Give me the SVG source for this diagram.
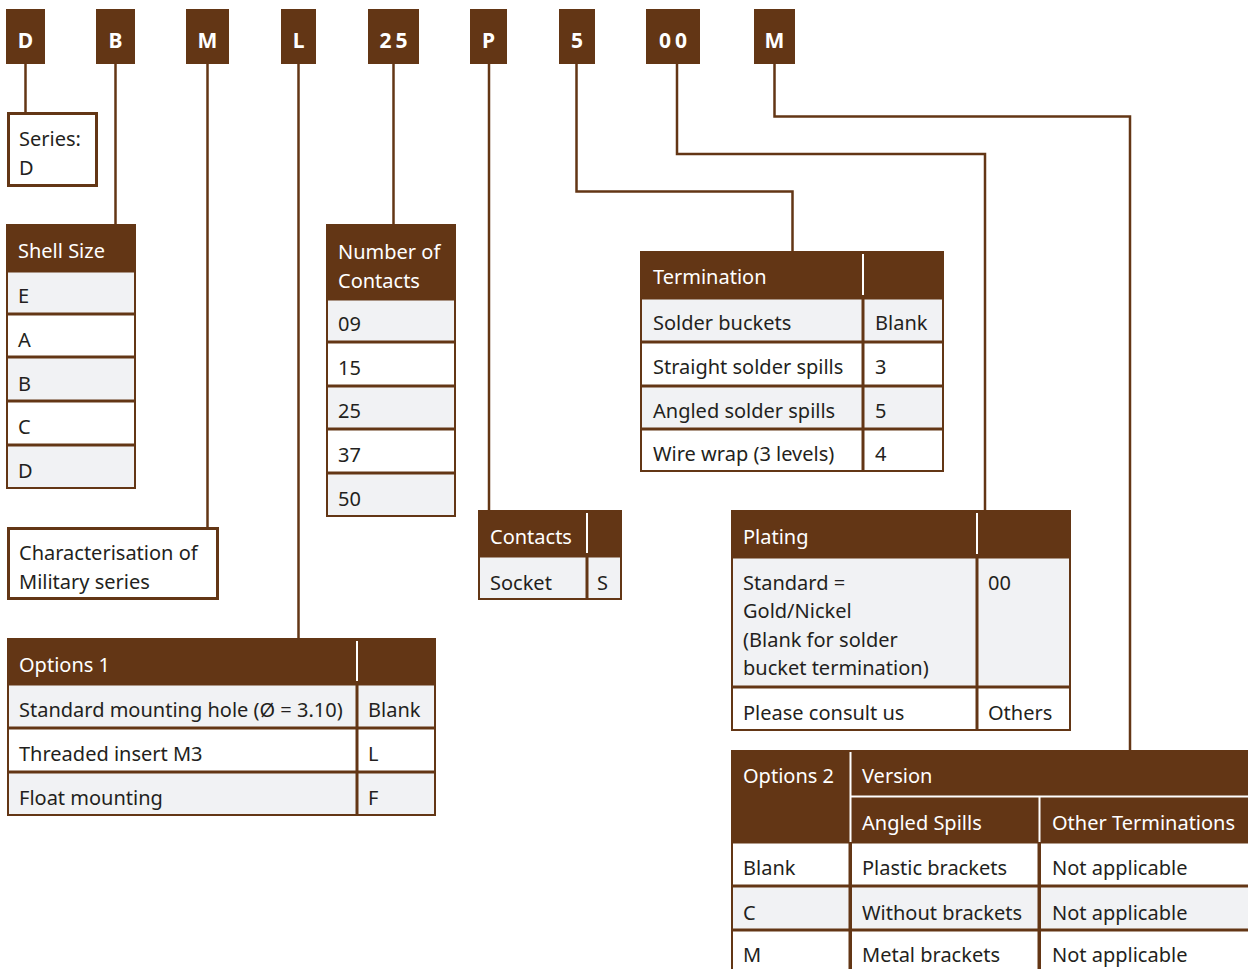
<svg xmlns="http://www.w3.org/2000/svg" width="1248" height="969" viewBox="0 0 1248 969">
<style>
text{font-family:"Noto Sans","Liberation Sans",sans-serif;font-size:20px;fill:#231f20}
.code{font-weight:bold;fill:#fff;font-size:21px;text-anchor:middle}
.h{fill:#fff}
.b{fill:#633615}
.g{fill:#f1f2f4}
.w{fill:#fff}
.wl{stroke:#fff;stroke-width:2;fill:none}
.box{fill:#fff;stroke:#633615;stroke-width:3}
.conn{stroke:#633615;stroke-width:2.5;fill:none}
</style>
<rect width="1248" height="969" fill="#fff"/>
<g id="connectors">
<path class="conn" d="M25.5 64V112"/>
<path class="conn" d="M115.5 64V224"/>
<path class="conn" d="M207.5 64V527"/>
<path class="conn" d="M298.5 64V638"/>
<path class="conn" d="M393.5 64V224"/>
<path class="conn" d="M489 64V510"/>
<path class="conn" d="M576.5 64V191.5H792.5V251"/>
<path class="conn" d="M677 64V154H985V510"/>
<path class="conn" d="M774.5 64V116.5H1130V750"/>
</g>
<g id="codes">
<g id="code-D"><rect class="b" x="6" y="9" width="39" height="55"/><text class="code" x="25.5" y="48">D</text></g>
<g id="code-B"><rect class="b" x="96" y="9" width="39" height="55"/><text class="code" x="115.5" y="48">B</text></g>
<g id="code-M1"><rect class="b" x="186" y="9" width="43" height="55"/><text class="code" x="207.5" y="48">M</text></g>
<g id="code-L"><rect class="b" x="281" y="9" width="35" height="55"/><text class="code" x="298.5" y="48">L</text></g>
<g id="code-25"><rect class="b" x="368" y="9" width="51" height="55"/><text class="code" x="395.5" y="48" letter-spacing="4">25</text></g>
<g id="code-P"><rect class="b" x="470" y="9" width="37" height="55"/><text class="code" x="488.5" y="48">P</text></g>
<g id="code-5"><rect class="b" x="559" y="9" width="36" height="55"/><text class="code" x="577" y="48">5</text></g>
<g id="code-00"><rect class="b" x="646" y="9" width="54" height="55"/><text class="code" x="675" y="48" letter-spacing="4">00</text></g>
<g id="code-M2"><rect class="b" x="754" y="9" width="41" height="55"/><text class="code" x="774.5" y="48">M</text></g>
</g>
<g id="series">
<rect class="box" x="8.5" y="113.5" width="88" height="72"/>
<text x="19" y="146">Series:</text>
<text x="19" y="175">D</text>
</g>
<g id="shell-size">
<rect class="b" x="6" y="224" width="130" height="265"/>
<rect class="g" x="8" y="272.5" width="126" height="40"/>
<rect class="w" x="8" y="315.5" width="126" height="40"/>
<rect class="g" x="8" y="358.5" width="126" height="41"/>
<rect class="w" x="8" y="402.5" width="126" height="41"/>
<rect class="g" x="8" y="446.5" width="126" height="40.5"/>
<text class="h" x="18" y="258">Shell Size</text>
<text x="18" y="303">E</text>
<text x="18" y="347">A</text>
<text x="18" y="391">B</text>
<text x="18" y="434">C</text>
<text x="18" y="478">D</text>
</g>
<g id="characterisation">
<rect class="box" x="8.5" y="528.5" width="209" height="70"/>
<text x="19" y="560">Characterisation of</text>
<text x="19" y="589">Military series</text>
</g>
<g id="number-of-contacts">
<rect class="b" x="326" y="224" width="130" height="293"/>
<rect class="g" x="328" y="300.5" width="126" height="40"/>
<rect class="w" x="328" y="343.5" width="126" height="41"/>
<rect class="g" x="328" y="387.5" width="126" height="40"/>
<rect class="w" x="328" y="430.5" width="126" height="41"/>
<rect class="g" x="328" y="474.5" width="126" height="40.5"/>
<text class="h" x="338" y="259">Number of</text>
<text class="h" x="338" y="288">Contacts</text>
<text x="338" y="331">09</text>
<text x="338" y="375">15</text>
<text x="338" y="418">25</text>
<text x="338" y="462">37</text>
<text x="338" y="506">50</text>
</g>
<g id="contacts">
<rect class="b" x="478" y="510" width="144" height="90"/>
<rect class="g" x="480" y="557.5" width="105.5" height="40.5"/>
<rect class="g" x="588.5" y="557.5" width="31.5" height="40.5"/>
<path class="wl" d="M587 513V553"/>
<text class="h" x="490" y="544">Contacts</text>
<text x="490" y="590">Socket</text>
<text x="597" y="590">S</text>
</g>
<g id="termination">
<rect class="b" x="640" y="251" width="304" height="221"/>
<rect class="g" x="642" y="299.5" width="219.5" height="41"/>
<rect class="g" x="864.5" y="299.5" width="77.5" height="41"/>
<rect class="w" x="642" y="343.5" width="219.5" height="41"/>
<rect class="w" x="864.5" y="343.5" width="77.5" height="41"/>
<rect class="g" x="642" y="387.5" width="219.5" height="40"/>
<rect class="g" x="864.5" y="387.5" width="77.5" height="40"/>
<rect class="w" x="642" y="430.5" width="219.5" height="39.5"/>
<rect class="w" x="864.5" y="430.5" width="77.5" height="39.5"/>
<path class="wl" d="M863 254V295"/>
<text class="h" x="653" y="284">Termination</text>
<text x="653" y="330">Solder buckets</text>
<text x="875" y="330">Blank</text>
<text x="653" y="374">Straight solder spills</text>
<text x="875" y="374">3</text>
<text x="653" y="418">Angled solder spills</text>
<text x="875" y="418">5</text>
<text x="653" y="461">Wire wrap (3 levels)</text>
<text x="875" y="461">4</text>
</g>
<g id="plating">
<rect class="b" x="731" y="510" width="340" height="221"/>
<rect class="g" x="733" y="558.5" width="242.5" height="127"/>
<rect class="g" x="978.5" y="558.5" width="90.5" height="127"/>
<rect class="w" x="733" y="688.5" width="242.5" height="40.5"/>
<rect class="w" x="978.5" y="688.5" width="90.5" height="40.5"/>
<path class="wl" d="M977 513V554"/>
<text class="h" x="743" y="544">Plating</text>
<text x="743" y="590">Standard =</text>
<text x="743" y="618">Gold/Nickel</text>
<text x="743" y="647">(Blank for solder</text>
<text x="743" y="675">bucket termination)</text>
<text x="988" y="590">00</text>
<text x="743" y="720">Please consult us</text>
<text x="988" y="720">Others</text>
</g>
<g id="options-1">
<rect class="b" x="7" y="638" width="429" height="178"/>
<rect class="g" x="9" y="685.5" width="346.5" height="41"/>
<rect class="g" x="358.5" y="685.5" width="75.5" height="41"/>
<rect class="w" x="9" y="729.5" width="346.5" height="41"/>
<rect class="w" x="358.5" y="729.5" width="75.5" height="41"/>
<rect class="g" x="9" y="773.5" width="346.5" height="40.5"/>
<rect class="g" x="358.5" y="773.5" width="75.5" height="40.5"/>
<path class="wl" d="M357 641V681"/>
<text class="h" x="19" y="672">Options 1</text>
<text x="19" y="717">Standard mounting hole (Ø = 3.10)</text>
<text x="368" y="717">Blank</text>
<text x="19" y="761">Threaded insert M3</text>
<text x="368" y="761">L</text>
<text x="19" y="805">Float mounting</text>
<text x="368" y="805">F</text>
</g>
<g id="options-2">
<rect class="b" x="731" y="750" width="530" height="230"/>
<path class="wl" d="M850.5 752V842M851 796.5H1250M1039.5 797V842"/>
<rect class="w" x="733" y="843.5" width="115.5" height="41"/>
<rect class="w" x="852" y="843.5" width="185.5" height="41"/>
<rect class="w" x="1041" y="843.5" width="220" height="41"/>
<rect class="g" x="733" y="887.5" width="115.5" height="41"/>
<rect class="g" x="852" y="887.5" width="185.5" height="41"/>
<rect class="g" x="1041" y="887.5" width="220" height="41"/>
<rect class="w" x="733" y="931.5" width="115.5" height="40"/>
<rect class="w" x="852" y="931.5" width="185.5" height="40"/>
<rect class="w" x="1041" y="931.5" width="220" height="40"/>
<text class="h" x="743" y="783">Options 2</text>
<text class="h" x="862" y="783">Version</text>
<text class="h" x="862" y="830">Angled Spills</text>
<text class="h" x="1052" y="830">Other Terminations</text>
<text x="743" y="875">Blank</text>
<text x="862" y="875">Plastic brackets</text>
<text x="1052" y="875">Not applicable</text>
<text x="743" y="920">C</text>
<text x="862" y="920">Without brackets</text>
<text x="1052" y="920">Not applicable</text>
<text x="743" y="962">M</text>
<text x="862" y="962">Metal brackets</text>
<text x="1052" y="962">Not applicable</text>
</g>
</svg>
